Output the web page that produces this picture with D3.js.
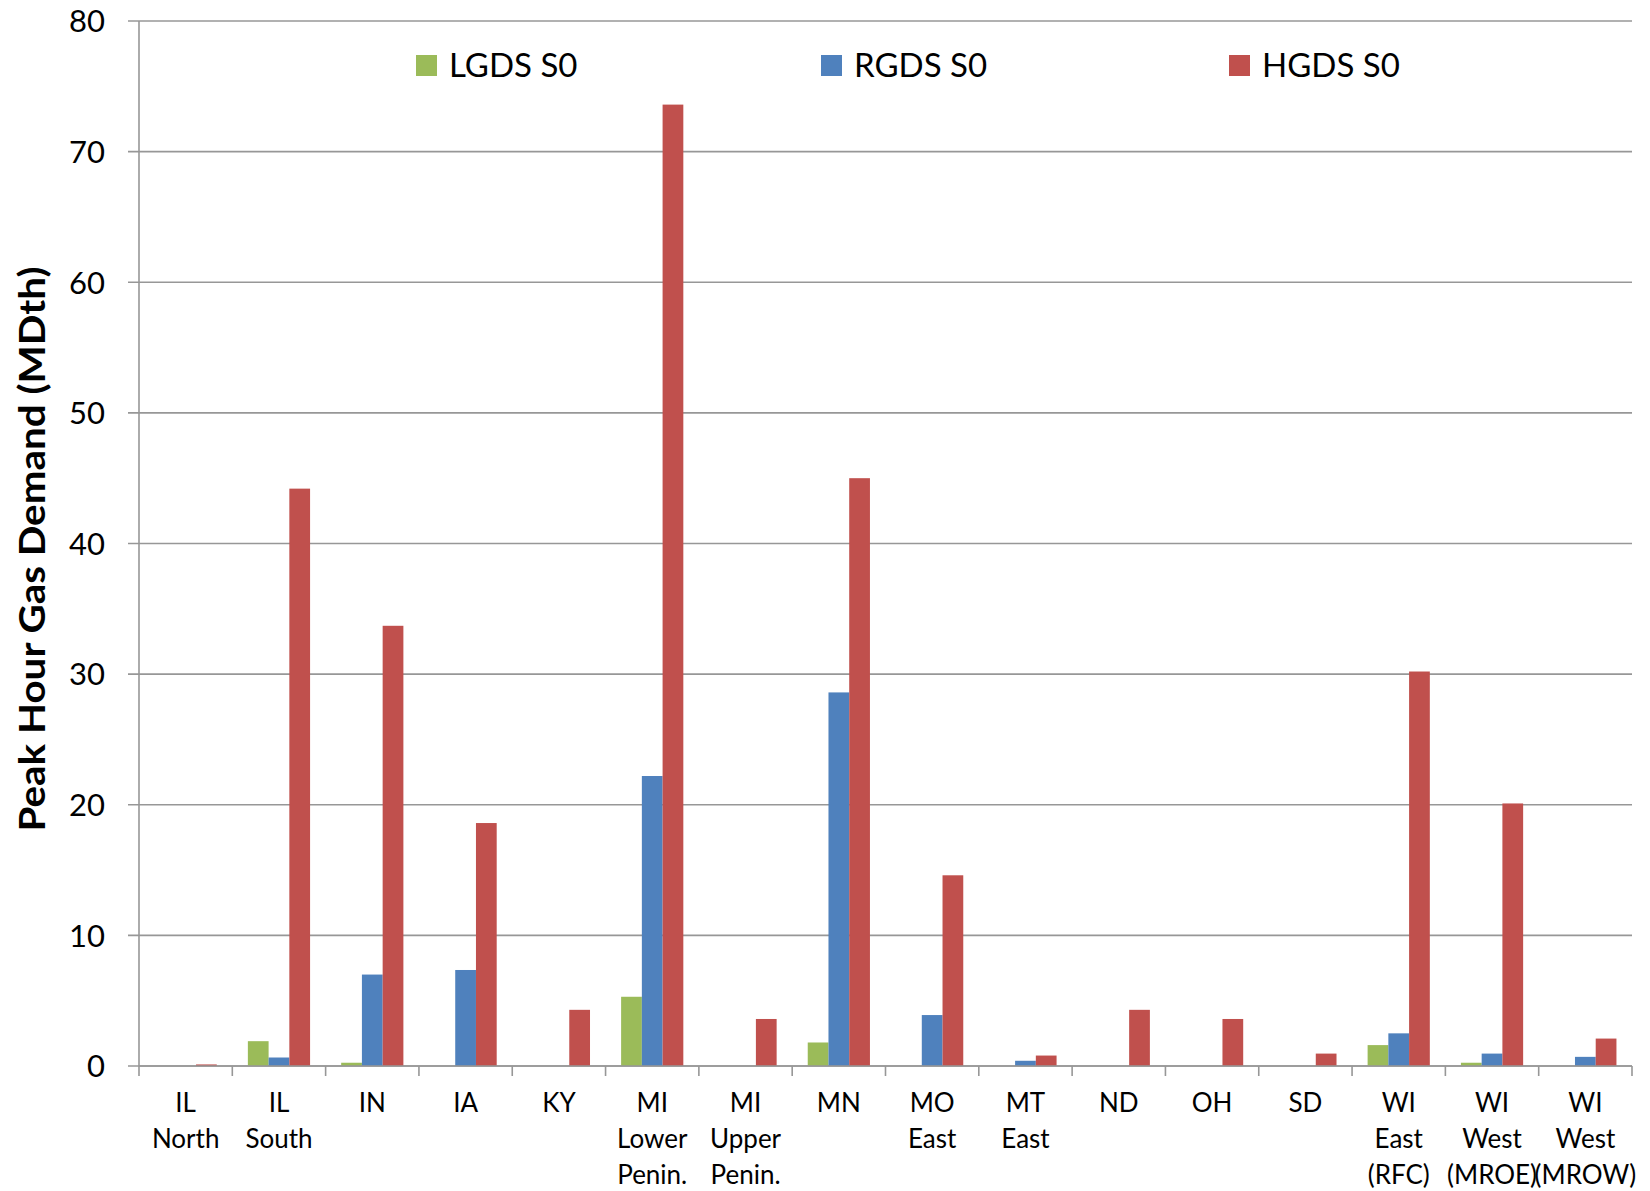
<!DOCTYPE html>
<html>
<head>
<meta charset="utf-8">
<script src="https://cdn.jsdelivr.net/npm/d3@7"></script>
<style>
  html, body { margin: 0; padding: 0; background: #fff; }
  svg { display: block; }
  text { font-family: Lato, "Open Sans", sans-serif; fill: #000; }
</style>
</head>
<body>
<svg id="chart" width="1650" height="1191"></svg>
<script>
// ---- data ----
const categories = ["IL North", "IL South", "IN", "IA", "KY", "MI Lower Penin.", "MI Upper Penin.", "MN", "MO East", "MT East", "ND", "OH", "SD", "WI East (RFC)", "WI West (MROE)", "WI West (MROW)"];
const categoryLines = [["IL","North"],["IL","South"],["IN"],["IA"],["KY"],["MI","Lower","Penin."],["MI","Upper","Penin."],["MN"],["MO","East"],["MT","East"],["ND"],["OH"],["SD"],["WI","East","(RFC)"],["WI","West","(MROE)"],["WI","West","(MROW)"]];
const seriesNames = ["LGDS S0", "RGDS S0", "HGDS S0"];
const seriesColors = ["#9BBB59", "#4F81BD", "#C0504D"];
const lgds = [0, 1.9, 0.25, 0, 0, 5.3, 0, 1.8, 0, 0, 0, 0, 0, 1.6, 0.25, 0];
const rgds = [0, 0.65, 7.0, 7.35, 0, 22.2, 0, 28.6, 3.9, 0.4, 0, 0, 0, 2.5, 0.95, 0.7];
const hgds = [0.12, 44.2, 33.7, 18.6, 4.3, 73.6, 3.6, 45.0, 14.6, 0.8, 4.3, 3.6, 0.95, 30.2, 20.1, 2.1];
const yTicks = [0, 10, 20, 30, 40, 50, 60, 70, 80];
const yTitle = "Peak Hour Gas Demand (MDth)";

const seriesValues = [lgds, rgds, hgds];

// ---- layout ----
const svg = d3.select("#chart");
const plotLeft = 139, plotRight = 1632, plotTop = 21, plotBottom = 1066;
const gridColor = "#979797";

const x = d3.scaleBand().domain(categories).range([plotLeft, plotRight]).paddingInner(0).paddingOuter(0);
const bw = x.bandwidth();
// Excel-style gap width 150%: band = 4.5 bar widths
const barW = bw / 4.5;
const x1 = d3.scaleBand().domain(seriesNames).range([0.75 * barW, bw - 0.75 * barW]).padding(0);
const y = d3.scaleLinear().domain([0, 80]).range([plotBottom, plotTop]);

// gridlines
svg.append("g").selectAll("line").data(yTicks).join("line")
  .attr("x1", plotLeft - 11).attr("x2", plotRight)
  .attr("y1", d => y(d)).attr("y2", d => y(d))
  .attr("stroke", gridColor).attr("stroke-width", 1.6);

// y axis labels
const yAxis = d3.axisLeft(y).tickValues(yTicks).tickSize(0).tickPadding(0).tickFormat(d3.format("d"));
const gy = svg.append("g").attr("transform", `translate(${plotLeft - 34},0)`).call(yAxis);
gy.select(".domain").remove();
gy.selectAll("text").attr("font-size", 31).attr("font-family", "Lato, sans-serif").attr("fill", "#000").attr("dy", "0.35em");

// bars
const groups = svg.append("g").selectAll("g").data(seriesNames).join("g")
  .attr("fill", (d, i) => seriesColors[i]);
groups.selectAll("rect").data((s, si) => categories.map((c, ci) => ({c, s, v: seriesValues[si][ci]})))
  .join("rect")
  .attr("x", d => x(d.c) + x1(d.s))
  .attr("width", x1.bandwidth())
  .attr("y", d => y(d.v))
  .attr("height", d => y(0) - y(d.v));

// y axis line
svg.append("line").attr("x1", plotLeft).attr("x2", plotLeft).attr("y1", plotTop).attr("y2", plotBottom)
  .attr("stroke", gridColor).attr("stroke-width", 1.6);

// x axis: line + ticks between categories
const xBoundaries = categories.map(c => x(c)).concat([plotRight]);
svg.append("line").attr("x1", plotLeft).attr("x2", plotRight).attr("y1", plotBottom).attr("y2", plotBottom)
  .attr("stroke", gridColor).attr("stroke-width", 1.6);
svg.append("g").selectAll("line").data(xBoundaries).join("line")
  .attr("x1", d => d).attr("x2", d => d).attr("y1", plotBottom).attr("y2", plotBottom + 10)
  .attr("stroke", gridColor).attr("stroke-width", 1.6);

// category labels
const labG = svg.append("g").selectAll("text").data(categories).join("text")
  .attr("text-anchor", "middle").attr("font-size", 26)
  .attr("transform", d => `translate(${x(d) + bw / 2},0)`);
labG.selectAll("tspan").data((d, i) => categoryLines[i]).join("tspan")
  .attr("x", 0).attr("y", (d, i) => 1112 + i * 36).text(d => d);

// y title
svg.append("text")
  .attr("transform", "translate(45,549) rotate(-90)")
  .attr("text-anchor", "middle").attr("font-size", 37).attr("font-weight", "bold")
  .attr("textLength", 565).attr("lengthAdjust", "spacingAndGlyphs")
  .text(yTitle);

// legend
const legendX = [416, 821, 1229];
const leg = svg.append("g").selectAll("g").data(seriesNames).join("g")
  .attr("transform", (d, i) => `translate(${legendX[i]},55)`);
leg.append("rect").attr("width", 21).attr("height", 21).attr("fill", (d, i) => seriesColors[i]);
leg.append("text").attr("x", 33).attr("y", 10.5).attr("dy", "0.36em").attr("font-size", 33).text(d => d);
</script>
</body>
</html>
